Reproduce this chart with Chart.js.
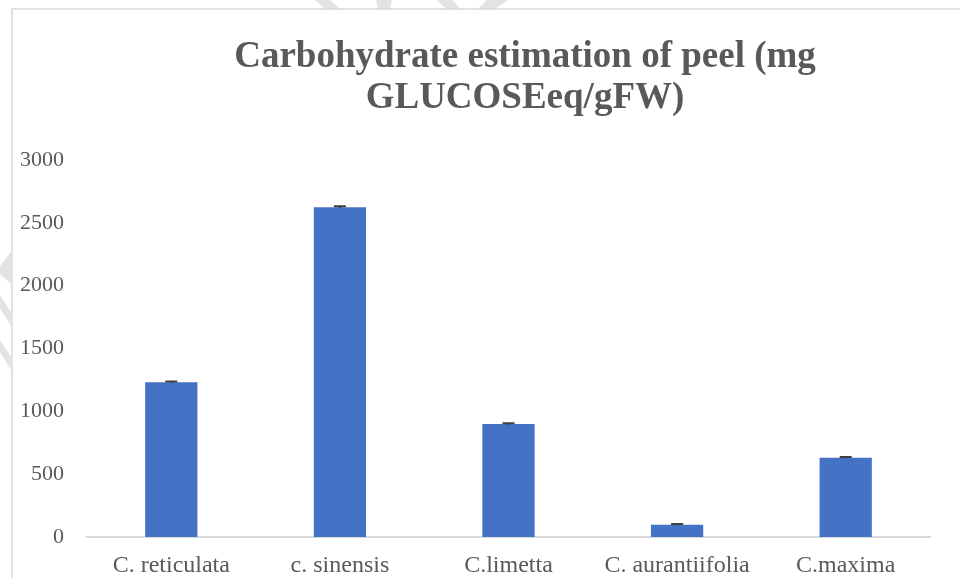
<!DOCTYPE html>
<html>
<head>
<meta charset="utf-8">
<script src="https://cdn.jsdelivr.net/npm/chart.js@4.4.1/dist/chart.umd.min.js"></script>
<style>
  html, body { margin: 0; padding: 0; background: #ffffff; }
  #wrap { position: relative; width: 960px; height: 578px; }
</style>
</head>
<body>
<div id="wrap"><canvas id="chart" width="960" height="578"></canvas></div>
<script>
// Carbohydrate content of citrus peels (mg glucose equivalent per g fresh weight)
const categories = ['C. reticulata', 'c. sinensis', 'C.limetta', 'C. aurantiifolia', 'C.maxima'];
const carbohydrate = [1232, 2625, 900, 97, 631];
const stdError = [6, 6, 6, 6, 6];
const titleLines = ['Carbohydrate estimation of peel (mg', 'GLUCOSEeq/gFW)'];
const yTicks = [0, 500, 1000, 1500, 2000, 2500, 3000];

const TEXT = '#595959';
const SERIF = '"Liberation Serif", "Times New Roman", serif';

// Faint page marks behind the chart frame, and the frame itself
const backdrop = {
  id: 'backdrop',
  beforeDraw(chart) {
    const ctx = chart.ctx;
    ctx.save();
    ctx.fillStyle = '#ffffff';
    ctx.fillRect(0, 0, chart.width, chart.height);
    ctx.fillStyle = '#e3e3e3';
    const shapes = [
      [[315, 0], [330, 0], [340, 9], [325, 9]],
      [[376, 0], [392, 0], [390, 9], [378, 9]],
      [[437, 0], [453, 0], [460, 9], [446, 9]],
      [[487, 0], [508, 0], [495, 9], [478, 9]],
      [[11, 252], [0, 266], [0, 274], [11, 284]],
      [[0, 295], [0, 308], [11, 326], [11, 312]],
      [[0, 340], [0, 352], [11, 370], [11, 357]]
    ];
    shapes.forEach(p => {
      ctx.beginPath();
      ctx.moveTo(p[0][0], p[0][1]);
      for (let i = 1; i < p.length; i++) ctx.lineTo(p[i][0], p[i][1]);
      ctx.closePath();
      ctx.fill();
    });
    ctx.strokeStyle = '#d9d9d9';
    ctx.lineWidth = 1.5;
    ctx.beginPath();
    ctx.moveTo(12, chart.height);
    ctx.lineTo(12, 9);
    ctx.lineTo(chart.width, 9);
    ctx.stroke();
    ctx.restore();
  }
};

// Two-line chart heading
const heading = {
  id: 'heading',
  afterDraw(chart) {
    const ctx = chart.ctx;
    ctx.save();
    ctx.fillStyle = TEXT;
    ctx.font = 'bold 37px ' + SERIF;
    ctx.textAlign = 'center';
    ctx.textBaseline = 'alphabetic';
    ctx.fillText(titleLines[0], 525, 67);
    ctx.fillText(titleLines[1], 525, 108);
    ctx.restore();
  }
};

// Error caps on top of each bar
const errorCaps = {
  id: 'errorCaps',
  afterDatasetsDraw(chart) {
    const ctx = chart.ctx;
    const meta = chart.getDatasetMeta(0);
    const y = chart.scales.y;
    ctx.save();
    ctx.strokeStyle = '#404040';
    ctx.lineWidth = 2;
    meta.data.forEach((bar, i) => {
      const hi = y.getPixelForValue(carbohydrate[i] + stdError[i]);
      const lo = y.getPixelForValue(carbohydrate[i] - stdError[i]);
      ctx.beginPath();
      ctx.moveTo(bar.x, hi);
      ctx.lineTo(bar.x, lo);
      ctx.moveTo(bar.x - 6, hi);
      ctx.lineTo(bar.x + 6, hi);
      ctx.stroke();
    });
    ctx.restore();
  }
};

new Chart(document.getElementById('chart'), {
  type: 'bar',
  data: {
    labels: categories,
    datasets: [{
      data: carbohydrate,
      backgroundColor: '#4472c4',
      borderWidth: 0,
      categoryPercentage: 1,
      barPercentage: 0.31
    }]
  },
  options: {
    responsive: false,
    animation: false,
    devicePixelRatio: 1,
    layout: { padding: { left: 12, right: 30, top: 160, bottom: 0 } },
    plugins: {
      legend: { display: false },
      title: { display: false },
      tooltip: { enabled: false }
    },
    scales: {
      x: {
        grid: { display: false, drawTicks: false },
        border: { display: true, color: '#d9d9d9', width: 2 },
        ticks: {
          color: TEXT,
          font: { family: SERIF, size: 24 },
          padding: 14,
          maxRotation: 0,
          autoSkip: false
        },
        afterFit(scale) { scale.height = 41; }
      },
      y: {
        min: 0,
        max: 3000,
        afterBuildTicks(scale) { scale.ticks = yTicks.map(v => ({ value: v })); },
        grid: { display: false, drawTicks: false },
        border: { display: false },
        ticks: {
          color: TEXT,
          font: { family: SERIF, size: 22 },
          padding: 23,
          callback: v => String(v)
        },
        afterFit(scale) { scale.width = 75; }
      }
    }
  },
  plugins: [backdrop, heading, errorCaps]
});
</script>
</body>
</html>
